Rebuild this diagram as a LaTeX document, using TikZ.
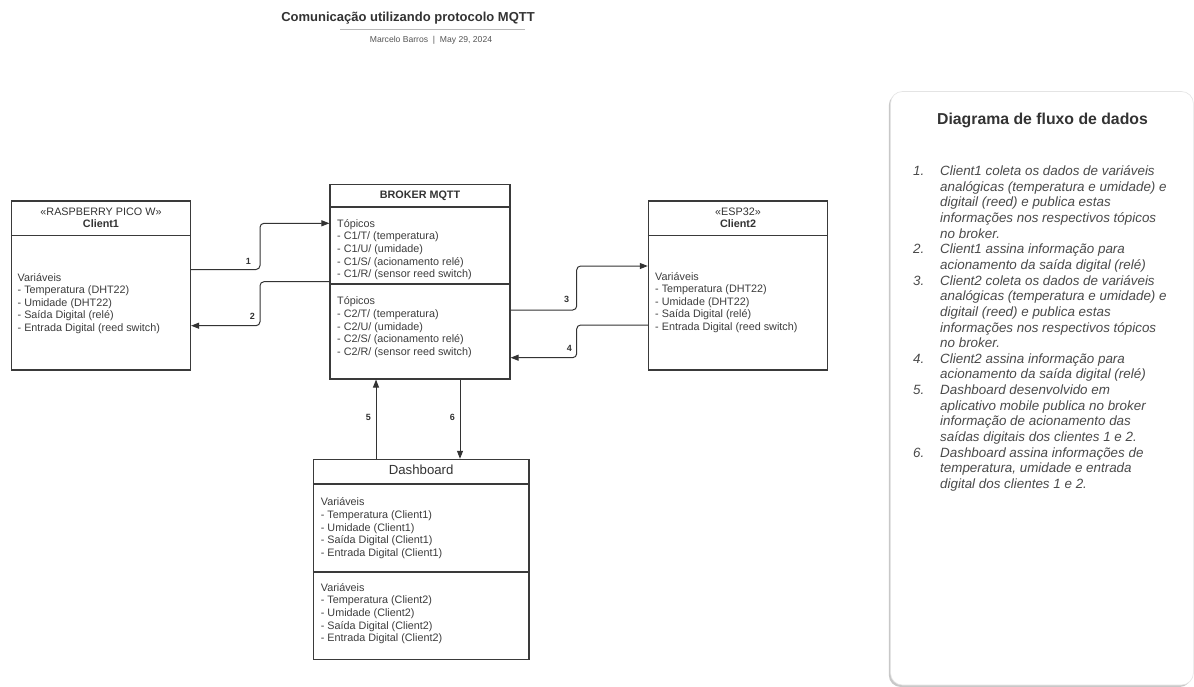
\documentclass[tikz,border=0pt]{standalone}
\usepackage{fontspec}
\setmainfont{Liberation Sans}
\usetikzlibrary{arrows.meta}
\definecolor{ink}{HTML}{333333}
\definecolor{edge}{HTML}{3A3A3A}
\definecolor{txtc}{HTML}{3D3D3D}
\definecolor{subc}{HTML}{555555}
\definecolor{rulec}{HTML}{B8B8B8}
\definecolor{shadowc}{HTML}{C8C8C8}
\definecolor{paneledge}{HTML}{E4E4E4}
\definecolor{listc}{HTML}{4A4A4A}
\begin{document}
\begin{tikzpicture}[x=1pt,y=-1pt,
  box/.style={draw=edge, line width=1.1pt, fill=white, inner sep=0pt},
  divline/.style={draw=edge, line width=1.1pt},
  txt/.style={anchor=base west, inner sep=0pt, text=txtc, font=\fontsize{10.8}{12.7}\selectfont},
  hdr/.style={anchor=base, inner sep=0pt, text=ink, font=\fontsize{10.8}{12.7}\selectfont},
  hdrb/.style={anchor=base, inner sep=0pt, text=ink, font=\fontsize{10.8}{12.7}\selectfont\bfseries},
  conn/.style={draw=ink, line width=1pt, rounded corners=4pt, -{Triangle[length=8pt,width=6pt]}},
  numlbl/.style={font=\fontsize{9}{10}\selectfont\bfseries, text=ink, inner sep=0pt},
  li/.style={anchor=base west, inner sep=0pt, text=listc, font=\fontsize{13.4}{15.6}\selectfont\itshape},
  linum/.style={anchor=base east, inner sep=0pt, text=listc, font=\fontsize{13.4}{15.6}\selectfont\itshape}
]
\useasboundingbox (0,0) rectangle (1194,687);
\fill[white] (0,0) rectangle (1194,687);

% title
\node[anchor=base, inner sep=0pt, font=\fontsize{13}{15}\selectfont\bfseries, text=ink] (title) at (408,21.4) {Comunicação utilizando protocolo MQTT};
\draw[rulec, line width=1pt] (340,29.5) -- (525,29.5);
\node[anchor=base, inner sep=0pt, font=\fontsize{8.6}{10}\selectfont, text=subc] (subtitle) at (431,42.3) {Marcelo Barros\ \ |\ \ May 29, 2024};

% boxes
\node[box, minimum width=179pt, minimum height=169pt] (c1) at (101,285.5) {};
\node[box, minimum width=180pt, minimum height=194.7pt] (br) at (420,281.65) {};
\node[box, minimum width=179.4pt, minimum height=169pt] (c2) at (738,285.5) {};
\node[box, minimum width=215.7pt, minimum height=200pt] (db) at (421.15,559.3) {};

% dividers
\draw[divline] (c1.west |- 0,235.5) -- (c1.east |- 0,235.5);
\draw[divline] (br.west |- 0,207) -- (br.east |- 0,207);
\draw[divline] (br.west |- 0,284) -- (br.east |- 0,284);
\draw[divline] (c2.west |- 0,235.7) -- (c2.east |- 0,235.7);
\draw[divline] (db.west |- 0,484) -- (db.east |- 0,484);
\draw[divline] (db.west |- 0,572) -- (db.east |- 0,572);

% headers
\node[hdr] (c1s) at (101,216) {«RASPBERRY PICO W»};
\node[hdrb] (c1n) at (101,227.5) {Client1};
\node[hdr] (c2s) at (738,215.7) {«ESP32»};
\node[hdrb] (c2n) at (738,227.3) {Client2};
\node[hdrb] (brn) at (420,199) {BROKER MQTT};
\node[anchor=base, inner sep=0pt, text=ink, font=\fontsize{13.2}{15}\selectfont] (dbn) at (421.15,474.7) {Dashboard};

% body texts
\foreach \t [count=\i from 0] in {Variáveis, - Temperatura (DHT22), - Umidade (DHT22), - Saída Digital (relé), - Entrada Digital (reed switch)}
  \node[txt] (c1t\i) at (17.5,{281+12.65*\i}) {\t};
\foreach \t [count=\i from 0] in {Variáveis, - Temperatura (DHT22), - Umidade (DHT22), - Saída Digital (relé), - Entrada Digital (reed switch)}
  \node[txt] (c2t\i) at (655,{280+12.65*\i}) {\t};
\foreach \t [count=\i from 0] in {Tópicos, - C1/T/ (temperatura), - C1/U/ (umidade), - C1/S/ (acionamento relé), - C1/R/ (sensor reed switch)}
  \node[txt] (bra\i) at (337,{227.3+12.65*\i}) {\t};
\foreach \t [count=\i from 0] in {Tópicos, - C2/T/ (temperatura), - C2/U/ (umidade), - C2/S/ (acionamento relé), - C2/R/ (sensor reed switch)}
  \node[txt] (brb\i) at (337,{304.7+12.65*\i}) {\t};
\foreach \t [count=\i from 0] in {Variáveis, - Temperatura (Client1), - Umidade (Client1), - Saída Digital (Client1), - Entrada Digital (Client1)}
  \node[txt] (dba\i) at (320.7,{505.7+12.65*\i}) {\t};
\foreach \t [count=\i from 0] in {Variáveis, - Temperatura (Client2), - Umidade (Client2), - Saída Digital (Client2), - Entrada Digital (Client2)}
  \node[txt] (dbb\i) at (320.7,{591.3+12.65*\i}) {\t};

% connectors
\draw[conn] (c1.east |- 0,269.5) -| (260,223.3) -- (br.west |- 0,223.3);
\draw[conn] (br.west |- 0,281.7) -| (260,325.7) -- (c1.east |- 0,325.7);
\draw[conn] (br.east |- 0,310) -| (576.7,266) -- (c2.west |- 0,266);
\draw[conn] (c2.west |- 0,325) -| (576.7,357.7) -- (br.east |- 0,357.7);
\draw[conn] (db.north -| 376,0) -- (br.south -| 376,0);
\draw[conn] (br.south -| 460,0) -- (db.north -| 460,0);

\node[numlbl] (l1) at (248.3,261) {1};
\node[numlbl] (l2) at (252.3,316.7) {2};
\node[numlbl] (l3) at (566.7,299) {3};
\node[numlbl] (l4) at (569.3,348.3) {4};
\node[numlbl] (l5) at (368.3,417.7) {5};
\node[numlbl] (l6) at (452.3,417.7) {6};

% right panel
\fill[shadowc, rounded corners=12pt] (888.8,93.5) rectangle (1191.5,687);
\filldraw[fill=white, draw=paneledge, line width=0.6pt, rounded corners=12pt] (890.5,91.5) rectangle (1193.4,685);
\node[anchor=base, inner sep=0pt, text=ink, font=\fontsize{15.8}{18}\selectfont\bfseries] (ptitle) at (1042.5,124.5) {Diagrama de fluxo de dados};

\foreach \t [count=\i from 0] in {
  Client1 coleta os dados de variáveis,
  analógicas (temperatura e umidade) e,
  digitail (reed) e publica estas,
  informações nos respectivos tópicos,
  no broker.,
  Client1 assina informação para,
  acionamento da saída digital (relé),
  Client2 coleta os dados de variáveis,
  analógicas (temperatura e umidade) e,
  digitail (reed) e publica estas,
  informações nos respectivos tópicos,
  no broker.,
  Client2 assina informação para,
  acionamento da saída digital (relé),
  Dashboard desenvolvido em,
  aplicativo mobile publica no broker,
  informação de acionamento das,
  saídas digitais dos clientes 1 e 2.,
  Dashboard assina informações de,
  {temperatura, umidade e entrada},
  digital dos clientes 1 e 2.}
  \node[li] (pl\i) at (940,{175.5+15.65*\i}) {\t};

\node[linum] (pn1) at (924.5,175.5) {1.};
\node[linum] (pn2) at (924.5,253.75) {2.};
\node[linum] (pn3) at (924.5,285.05) {3.};
\node[linum] (pn4) at (924.5,363.3) {4.};
\node[linum] (pn5) at (924.5,394.6) {5.};
\node[linum] (pn6) at (924.5,457.2) {6.};
\end{tikzpicture}
\end{document}
